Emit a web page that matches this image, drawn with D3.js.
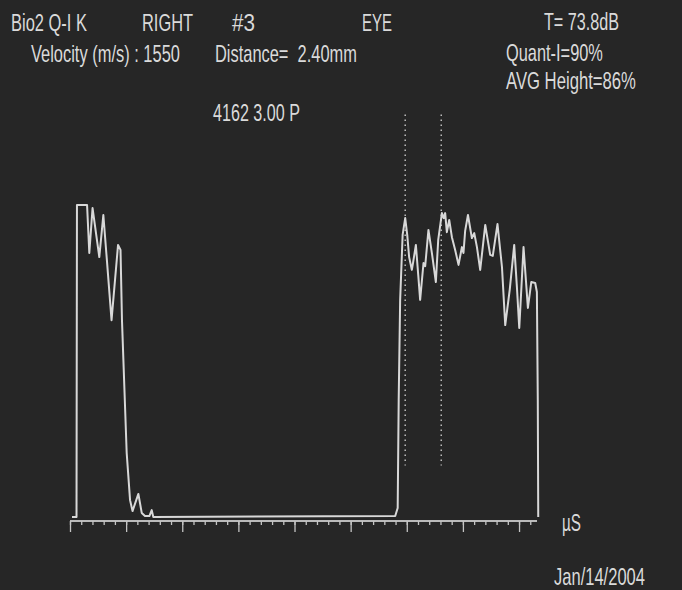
<!DOCTYPE html>
<html>
<head>
<meta charset="utf-8">
<script src="https://cdn.jsdelivr.net/npm/d3@7"></script>
<style>
  body { margin: 0; background: #262626; }
  svg { display: block; }
  text { font-family: "Liberation Sans", Arial, sans-serif; fill: #dadada; white-space: pre; }
</style>
</head>
<body>
<div id="chart"></div>
<script>
// A-scan trace, time in microseconds, amplitude in percent
const timeUs = [
  0.18, 0.58, 0.62, 1.52, 1.72, 2.01, 2.61, 2.97, 3.30, 3.70, 4.28, 4.50, 4.63, 5.05, 5.35, 5.57,
  6.09, 6.39, 6.68, 7.07, 7.28, 7.42,
  28.97, 29.19, 29.28, 29.41, 29.63, 29.86, 30.04, 30.21, 30.45, 30.57, 30.81, 31.02, 31.19, 31.49,
  31.64, 31.93, 32.26, 32.59, 32.80, 33.13, 33.29, 33.42, 33.57, 33.78, 34.02, 34.31, 34.61, 34.91,
  35.05, 35.20, 35.45, 35.80, 36.01, 36.25, 36.54, 36.99, 37.43, 37.66, 38.08, 38.48, 38.77, 39.17,
  39.57, 39.81, 40.02, 40.40, 40.79, 41.09, 41.44, 41.59, 41.67, 41.71
];
const amplitude = [
  0, 0, 100, 100, 84.6, 99.0, 83.3, 96.8, 81.7, 63.1, 87.2, 85.6, 63.1, 20.5, 5.4, 1.9,
  7.4, 1.3, 0.3, 0.3, 2.2, 0,
  0.3, 2.9, 37.5, 69.6, 90.4, 95.8, 90.4, 83.3, 79.2, 81.7, 87.2, 77.6, 69.6, 81.4,
  80.4, 92.0, 84.0, 75.3, 88.8, 97.4, 95.8, 97.4, 91.3, 95.2, 89.7, 85.6, 80.8, 86.5,
  84.6, 91.7, 96.8, 89.4, 91.0, 86.5, 79.2, 93.6, 84.0, 83.7, 93.9, 80.1, 61.5, 72.8,
  87.2, 73.7, 60.6, 86.5, 67.0, 75.3, 75.0, 72.1, 37.5, 0
];
const gateTimes = [29.86, 33.07];
const minorTicks = d3.range(0, 42, 1);
const majorTicks = d3.range(0, 41, 5);

const headerRow1 = ['Bio2 Q-I K', 'RIGHT', '#3', 'EYE', 'T= 73.8dB'];
const headerRow2 = ['Velocity (m/s) : 1550', 'Distance=  2.40mm', 'Quant-I=90%'];
const headerRow3 = ['AVG Height=86%', '4162 3.00 P'];
const unitLabel = 'µS';
const dateLabel = 'Jan/14/2004';

const width = 682;
const height = 590;

const svg = d3.select('#chart').append('svg')
  .attr('width', width)
  .attr('height', height);

svg.append('rect')
  .attr('width', width)
  .attr('height', height)
  .attr('fill', '#262626');

const x = d3.scaleLinear().domain([0, 41.6]).range([70, 537]);
const y = d3.scaleLinear().domain([0, 100]).range([517, 205]);

// header texts: [text, x, baseline, width]
const textLayout = [
  [headerRow1[0], 11, 31, 76],
  [headerRow1[1], 142, 31, 51],
  [headerRow1[2], 232, 31, 23],
  [headerRow1[3], 362, 31, 30],
  [headerRow1[4], 544, 30, 75],
  [headerRow2[0], 31, 62, 149],
  [headerRow2[1], 215, 62, 142],
  [headerRow2[2], 506, 61, 97],
  [headerRow3[0], 506, 89, 130],
  [headerRow3[1], 213, 121, 87],
  [unitLabel, 562, 531, 19],
  [dateLabel, 554, 585, 91]
];

// the screen font is narrow: squeeze each label horizontally to its measured width
svg.selectAll('g.label')
  .data(textLayout)
  .enter()
  .append('g')
  .attr('class', 'label')
  .each(function (d) {
    const g = d3.select(this);
    const t = g.append('text')
      .style('font-size', '24px')
      .text(d[0]);
    const natural = t.node().getComputedTextLength();
    g.attr('transform', `translate(${d[1]},${d[2]}) scale(${d[3] / natural},1)`);
  });

// gate markers
svg.selectAll('line.gate')
  .data(gateTimes)
  .enter()
  .append('line')
  .attr('class', 'gate')
  .attr('x1', (d) => x(d))
  .attr('x2', (d) => x(d))
  .attr('y1', y(129))
  .attr('y2', y(16.5))
  .attr('stroke', '#bdbdbd')
  .attr('stroke-width', 1.5)
  .attr('stroke-dasharray', '1.5,3.5');

// time axis
const axisY = 521;
const minorAxis = d3.axisBottom(x).tickValues(minorTicks).tickSize(4).tickFormat('');
const majorAxis = d3.axisBottom(x).tickValues(majorTicks).tickSize(11).tickFormat('');

const gMinor = svg.append('g').attr('transform', `translate(0,${axisY})`).call(minorAxis);
const gMajor = svg.append('g').attr('transform', `translate(0,${axisY})`).call(majorAxis);
[gMinor, gMajor].forEach((g) => {
  g.select('.domain').attr('stroke', '#c4c4c4').attr('stroke-width', 1.5)
    .attr('d', `M${x(0)},0H${x(41.6)}`);
  g.selectAll('.tick line').attr('stroke', '#c4c4c4').attr('stroke-width', 1.3);
});

// trace
const points = timeUs.map((t, i) => [t, amplitude[i]]);
const line = d3.line()
  .x((d) => x(d[0]))
  .y((d) => y(d[1]));

svg.append('path')
  .datum(points)
  .attr('d', line)
  .attr('fill', 'none')
  .attr('stroke', '#d8d8d8')
  .attr('stroke-width', 2)
  .attr('stroke-linejoin', 'round');
</script>
</body>
</html>
